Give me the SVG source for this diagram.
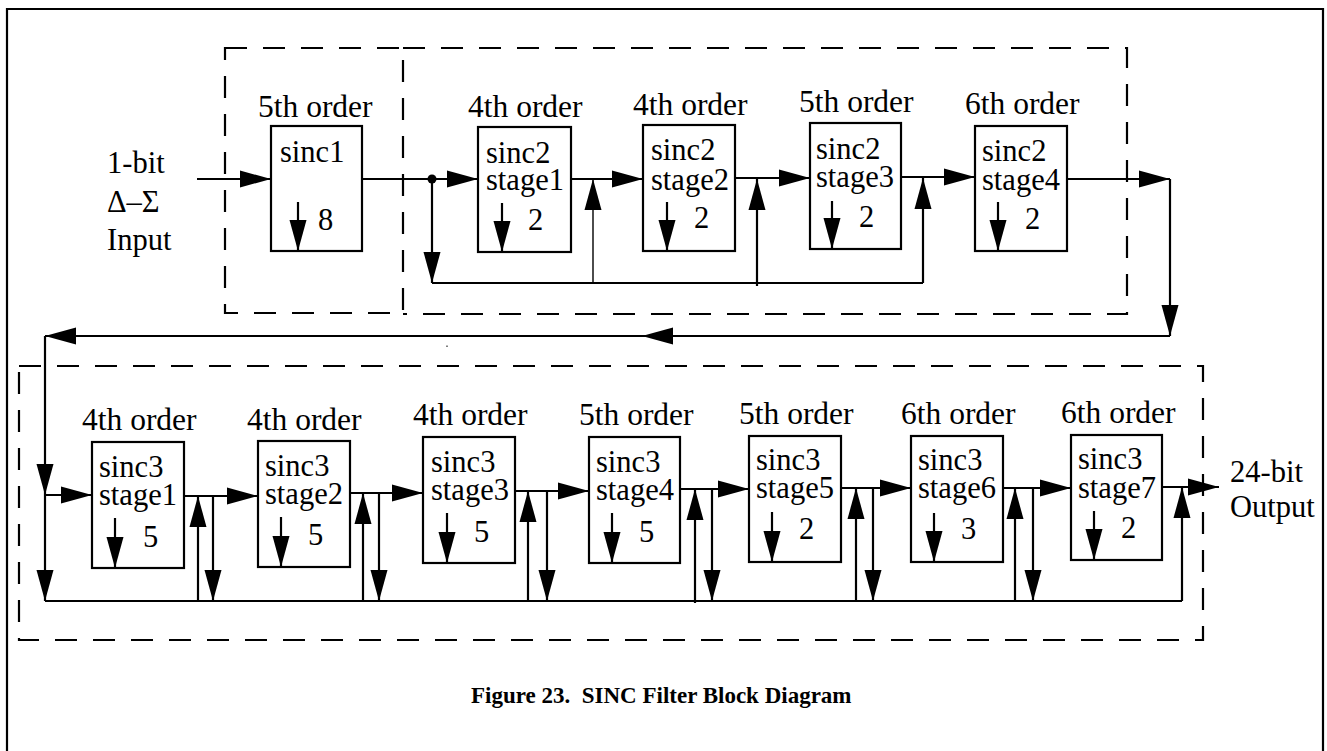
<svg xmlns="http://www.w3.org/2000/svg" width="1327" height="751" viewBox="0 0 1327 751">
<style>
  text { font-family: 'Liberation Serif', 'Tinos', 'Times New Roman', 'DejaVu Serif', serif; fill: #000; }
  .t { font-size: 30.5px; }
  .ord { font-size: 31.5px; }
  .cap { font-size: 23px; font-weight: bold; white-space: pre; }
  .box { fill: #fff; stroke: #000; stroke-width: 2.2; }
  .dash { fill: none; stroke: #000; stroke-width: 2.2; stroke-dasharray: 22 16; }
  .w { fill: none; stroke: #000; stroke-width: 2.2; }
  .thin { fill: none; stroke: #000; stroke-width: 1.4; }
  .a { marker-end: url(#ah); }
</style>
<defs>
  <marker id="ah" markerUnits="userSpaceOnUse" markerWidth="31" markerHeight="17" refX="31" refY="8.5" orient="auto" overflow="visible">
    <path d="M0,0 L31,8.5 L0,17 Z" fill="#000"/>
  </marker>
</defs>
<rect width="1327" height="751" fill="#fff"/>
<path class="w" d="M7,760 V9 H1323 V760"/>
<g id="groups">
  <rect class="dash" x="225" y="48" width="178" height="265"/>
  <path class="dash" d="M403,48 H1127 V314 H403"/>
  <rect class="dash" x="19" y="366" width="1184" height="274"/>
</g>

<g id="input">
  <text class="t" x="107" y="173">1-bit</text>
  <text class="t" x="107" y="212">Δ–Σ</text>
  <text class="t" x="107" y="250">Input</text>
</g>
<g id="output">
  <text class="t" x="1230" y="482">24-bit</text>
  <text class="t" x="1230" y="517">Output</text>
</g>

<g id="sinc1">
  <text class="ord" x="258" y="117">5th order</text>
  <rect class="box" x="271" y="126" width="91" height="125"/>
  <text class="t" x="280" y="162">sinc1</text>
  <path class="w a" d="M298,202 V251"/>
  <text class="t" x="318" y="230">8</text>
</g>
<g id="sinc2-stage1">
  <text class="ord" x="468" y="117">4th order</text>
  <rect class="box" x="478" y="127" width="93" height="125"/>
  <text class="t" x="486" y="163">sinc2</text>
  <text class="t" x="486" y="190">stage1</text>
  <path class="w a" d="M502,203 V252"/>
  <text class="t" x="528" y="230">2</text>
</g>
<g id="sinc2-stage2">
  <text class="ord" x="633" y="115">4th order</text>
  <rect class="box" x="643" y="125" width="92" height="126"/>
  <text class="t" x="651" y="160">sinc2</text>
  <text class="t" x="651" y="190">stage2</text>
  <path class="w a" d="M667,202 V251"/>
  <text class="t" x="694" y="228">2</text>
</g>
<g id="sinc2-stage3">
  <text class="ord" x="799" y="112">5th order</text>
  <rect class="box" x="810" y="123" width="91" height="126"/>
  <text class="t" x="816" y="159">sinc2</text>
  <text class="t" x="816" y="187">stage3</text>
  <path class="w a" d="M832,201 V249"/>
  <text class="t" x="859" y="227">2</text>
</g>
<g id="sinc2-stage4">
  <text class="ord" x="965" y="114">6th order</text>
  <rect class="box" x="975" y="126" width="92" height="125"/>
  <text class="t" x="982" y="161">sinc2</text>
  <text class="t" x="982" y="190">stage4</text>
  <path class="w a" d="M998,202 V251"/>
  <text class="t" x="1025" y="229">2</text>
</g>

<g id="sinc3-stage1">
  <text class="ord" x="82" y="430">4th order</text>
  <rect class="box" x="92" y="442" width="92" height="126"/>
  <text class="t" x="99" y="477">sinc3</text>
  <text class="t" x="99" y="505">stage1</text>
  <path class="w a" d="M115,518 V568"/>
  <text class="t" x="143" y="547">5</text>
</g>
<g id="sinc3-stage2">
  <text class="ord" x="247" y="430">4th order</text>
  <rect class="box" x="258" y="441" width="92" height="126"/>
  <text class="t" x="265" y="476">sinc3</text>
  <text class="t" x="265" y="504">stage2</text>
  <path class="w a" d="M281,517 V567"/>
  <text class="t" x="308" y="545">5</text>
</g>
<g id="sinc3-stage3">
  <text class="ord" x="413" y="425">4th order</text>
  <rect class="box" x="423" y="437" width="92" height="126"/>
  <text class="t" x="431" y="472">sinc3</text>
  <text class="t" x="431" y="500">stage3</text>
  <path class="w a" d="M447,513 V563"/>
  <text class="t" x="474" y="542">5</text>
</g>
<g id="sinc3-stage4">
  <text class="ord" x="579" y="425">5th order</text>
  <rect class="box" x="589" y="437" width="91" height="126"/>
  <text class="t" x="596" y="472">sinc3</text>
  <text class="t" x="596" y="500">stage4</text>
  <path class="w a" d="M612,513 V563"/>
  <text class="t" x="639" y="542">5</text>
</g>
<g id="sinc3-stage5">
  <text class="ord" x="739" y="424">5th order</text>
  <rect class="box" x="749" y="436" width="92" height="126"/>
  <text class="t" x="756" y="470">sinc3</text>
  <text class="t" x="756" y="498">stage5</text>
  <path class="w a" d="M772,512 V562"/>
  <text class="t" x="799" y="539">2</text>
</g>
<g id="sinc3-stage6">
  <text class="ord" x="901" y="424">6th order</text>
  <rect class="box" x="911" y="436" width="92" height="126"/>
  <text class="t" x="918" y="470">sinc3</text>
  <text class="t" x="918" y="498">stage6</text>
  <path class="w a" d="M934,513 V562"/>
  <text class="t" x="961" y="539">3</text>
</g>
<g id="sinc3-stage7">
  <text class="ord" x="1061" y="423">6th order</text>
  <rect class="box" x="1071" y="435" width="91" height="125"/>
  <text class="t" x="1078" y="469">sinc3</text>
  <text class="t" x="1078" y="498">stage7</text>
  <path class="w a" d="M1094,511 V560"/>
  <text class="t" x="1121" y="538">2</text>
</g>

<g id="connectors">
  <path class="w a" d="M197,179 H271"/>
  <path class="w" d="M362,179 H432"/>
  <circle cx="432" cy="179" r="4.5" fill="#000"/>
  <path class="w a" d="M432,179 H478"/>
  <path class="w a" d="M571,179 H643"/>
  <path class="w a" d="M735,178 H810"/>
  <path class="w a" d="M901,177 H975"/>
  <path class="w a" d="M1067,179 H1170"/>
  <path class="w a" d="M432,179 V283"/>
  <path class="w" d="M432,283 H923"/>
  <path class="thin a" d="M593,283 V179"/>
  <path class="w a" d="M757,286 V179"/>
  <path class="w a" d="M923,283 V178"/>
  <path class="w a" d="M1170,179 V336"/>
  <path class="w a" d="M1170,336 H642"/>
  <path class="w a" d="M642,336 H45"/>
  <path class="w a" d="M45,336 V495"/>
  <path class="w a" d="M45,495 V601"/>
  <path class="w a" d="M45,495 H92"/>
  <path class="w a" d="M184,496 H258"/>
  <path class="w a" d="M350,493 H423"/>
  <path class="w a" d="M515,491 H589"/>
  <path class="w a" d="M680,489 H749"/>
  <path class="w a" d="M841,488 H911"/>
  <path class="w a" d="M1003,488 H1071"/>
  <path class="w a" d="M1162,487 H1219"/>
  <path class="w" d="M45,601 H1182"/>
  <path class="w a" d="M198,601 V496"/>
  <path class="w a" d="M213,496 V601"/>
  <path class="w a" d="M363,601 V493"/>
  <path class="w a" d="M379,493 V601"/>
  <path class="w a" d="M528,601 V491"/>
  <path class="w a" d="M547,491 V601"/>
  <path class="w a" d="M695,603 V489"/>
  <path class="w a" d="M712,489 V601"/>
  <path class="w a" d="M856,601 V488"/>
  <path class="w a" d="M873,488 V601"/>
  <path class="w a" d="M1015,601 V488"/>
  <path class="w a" d="M1033,488 V601"/>
  <path class="w a" d="M1182,601 V487"/>
</g>
<rect x="446.5" y="345.5" width="1" height="1.5" fill="#000"/>

<text class="cap" x="471" y="703">Figure 23.  SINC Filter Block Diagram</text>
</svg>
